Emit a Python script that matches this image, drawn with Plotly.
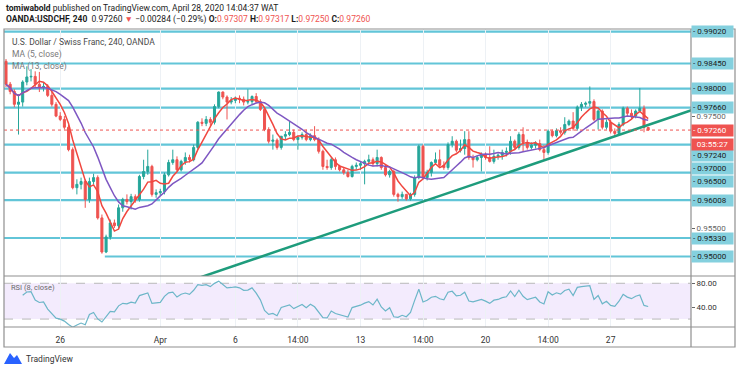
import numpy as np
import pandas as pd
import plotly.graph_objects as go

# ---------------- data (USDCHF 4H) ----------------
open_ = [0.9849,0.9808,0.9795,0.9772,0.9776,0.9812,0.9821,0.9822,0.9808,0.9803,
         0.9804,0.9788,0.9772,0.9751,0.9745,0.9731,0.9691,0.9623,0.9629,0.9634,
         0.9602,0.9634,0.9641,0.9569,0.9508,0.9535,0.9560,0.9555,0.9587,0.9602,
         0.9598,0.9607,0.9602,0.9643,0.9652,0.9661,0.9611,0.9614,0.9616,0.9646,
         0.9668,0.9673,0.9655,0.9670,0.9677,0.9673,0.9695,0.9740,0.9738,0.9745,
         0.9740,0.9768,0.9794,0.9785,0.9776,0.9779,0.9783,0.9781,0.9776,0.9777,
         0.9786,0.9777,0.9763,0.9727,0.9706,0.9708,0.9695,0.9715,0.9718,0.9722,
         0.9709,0.9713,0.9718,0.9709,0.9716,0.9709,0.9688,0.9661,0.9659,0.9673,
         0.9661,0.9655,0.9650,0.9643,0.9661,0.9663,0.9666,0.9670,0.9673,0.9666,
         0.9677,0.9659,0.9646,0.9652,0.9611,0.9607,0.9611,0.9603,0.9611,0.9641,
         0.9697,0.9641,0.9650,0.9668,0.9673,0.9663,0.9659,0.9700,0.9706,0.9690,
         0.9693,0.9709,0.9677,0.9673,0.9677,0.9682,0.9677,0.9670,0.9679,0.9681,
         0.9686,0.9688,0.9706,0.9695,0.9718,0.9704,0.9695,0.9699,0.9702,0.9691,
         0.9686,0.9724,0.9716,0.9725,0.9722,0.9736,0.9742,0.9729,0.9767,0.9772,
         0.9774,0.9777,0.9745,0.9760,0.9731,0.9740,0.9724,0.9720,0.9736,0.9765,
         0.9756,0.9751,0.9760,0.9765,0.97307]
high = [0.9853,0.9812,0.9799,0.9790,0.9815,0.9840,0.9835,0.9831,0.9830,0.9810,
        0.9808,0.9794,0.9776,0.9758,0.9751,0.9736,0.9695,0.9638,0.9641,0.9638,
        0.9641,0.9648,0.9645,0.9575,0.9539,0.9566,0.9566,0.9593,0.9605,0.9611,
        0.9612,0.9611,0.9646,0.9673,0.9691,0.9664,0.9620,0.9621,0.9650,0.9673,
        0.9691,0.9679,0.9673,0.9686,0.9682,0.9700,0.9742,0.9747,0.9751,0.9749,
        0.9772,0.9795,0.9795,0.9788,0.9785,0.9786,0.9788,0.9786,0.9799,0.9788,
        0.9792,0.9781,0.9767,0.9731,0.9718,0.9711,0.9715,0.9724,0.9742,0.9727,
        0.9716,0.9722,0.9727,0.9720,0.9733,0.9713,0.9691,0.9673,0.9677,0.9677,
        0.9664,0.9659,0.9655,0.9664,0.9668,0.9670,0.9673,0.9682,0.9677,0.9691,
        0.9679,0.9664,0.9655,0.9655,0.9614,0.9616,0.9612,0.9614,0.9645,0.9700,
        0.9700,0.9655,0.9670,0.9686,0.9691,0.9670,0.9704,0.9715,0.9709,0.9709,
        0.9724,0.9724,0.9682,0.9681,0.9686,0.9686,0.9697,0.9691,0.9684,0.9691,
        0.9695,0.9715,0.9709,0.9722,0.9731,0.9709,0.9704,0.9706,0.9709,0.9699,
        0.9727,0.9727,0.9729,0.9731,0.9749,0.9745,0.9758,0.9770,0.9776,0.9777,
        0.9804,0.9781,0.9763,0.9763,0.9745,0.9745,0.9729,0.9740,0.9768,0.9768,
        0.9763,0.9763,0.9801,0.9770,0.97317]
low = [0.9803,0.9790,0.9767,0.9718,0.9768,0.9806,0.9813,0.9803,0.9794,0.9795,
       0.9785,0.9768,0.9749,0.9742,0.9727,0.9688,0.9620,0.9611,0.9620,0.9587,
       0.9596,0.9629,0.9566,0.9505,0.9506,0.9530,0.9551,0.9548,0.9580,0.9593,
       0.9584,0.9596,0.9598,0.9638,0.9646,0.9607,0.9605,0.9609,0.9611,0.9643,
       0.9664,0.9652,0.9652,0.9664,0.9668,0.9670,0.9691,0.9733,0.9733,0.9734,
       0.9736,0.9765,0.9781,0.9745,0.9772,0.9774,0.9774,0.9770,0.9772,0.9772,
       0.9774,0.9760,0.9724,0.9702,0.9691,0.9691,0.9691,0.9709,0.9715,0.9706,
       0.9691,0.9709,0.9706,0.9706,0.9706,0.9684,0.9655,0.9655,0.9655,0.9655,
       0.9652,0.9646,0.9641,0.9641,0.9655,0.9655,0.9629,0.9664,0.9661,0.9661,
       0.9655,0.9643,0.9641,0.9607,0.9598,0.9603,0.9600,0.9600,0.9607,0.9638,
       0.9638,0.9636,0.9643,0.9664,0.9659,0.9655,0.9655,0.9695,0.9686,0.9686,
       0.9682,0.9673,0.9659,0.9670,0.9652,0.9673,0.9668,0.9666,0.9673,0.9673,
       0.9679,0.9682,0.9691,0.9691,0.9688,0.9691,0.9691,0.9693,0.9688,0.9673,
       0.9682,0.9713,0.9713,0.9718,0.9718,0.9733,0.9725,0.9725,0.9760,0.9767,
       0.9768,0.9742,0.9727,0.9727,0.9727,0.9720,0.9715,0.9718,0.9733,0.9751,
       0.9747,0.9747,0.9758,0.9722,0.97250]
close = [0.9808,0.9795,0.9772,0.9776,0.9812,0.9821,0.9822,0.9808,0.9803,0.9804,
         0.9788,0.9772,0.9751,0.9745,0.9731,0.9691,0.9623,0.9629,0.9634,0.9602,
         0.9634,0.9641,0.9569,0.9508,0.9535,0.9560,0.9555,0.9587,0.9602,0.9598,
         0.9607,0.9602,0.9643,0.9652,0.9661,0.9611,0.9614,0.9616,0.9646,0.9668,
         0.9673,0.9655,0.9670,0.9677,0.9673,0.9695,0.9740,0.9738,0.9745,0.9740,
         0.9768,0.9794,0.9785,0.9776,0.9779,0.9783,0.9781,0.9776,0.9777,0.9786,
         0.9777,0.9763,0.9727,0.9706,0.9708,0.9695,0.9715,0.9718,0.9722,0.9709,
         0.9713,0.9718,0.9709,0.9716,0.9709,0.9688,0.9661,0.9659,0.9673,0.9661,
         0.9655,0.9650,0.9643,0.9661,0.9663,0.9666,0.9670,0.9673,0.9666,0.9677,
         0.9659,0.9646,0.9652,0.9611,0.9607,0.9611,0.9603,0.9611,0.9641,0.9697,
         0.9641,0.9650,0.9668,0.9673,0.9663,0.9659,0.9700,0.9706,0.9690,0.9693,
         0.9709,0.9677,0.9673,0.9677,0.9682,0.9677,0.9670,0.9679,0.9681,0.9686,
         0.9688,0.9706,0.9695,0.9718,0.9704,0.9695,0.9699,0.9702,0.9691,0.9686,
         0.9724,0.9716,0.9725,0.9722,0.9736,0.9742,0.9729,0.9767,0.9772,0.9774,
         0.9777,0.9745,0.9760,0.9731,0.9740,0.9724,0.9720,0.9736,0.9765,0.9756,
         0.9751,0.9760,0.9765,0.97307,0.97260]

day_tick_idx = [13, 37, 55, 70, 85, 100, 115, 130, 145]
day_tick_text = ["26", "Apr", "6", "14:00", "13", "14:00", "20", "14:00", "27"]

level_prices = [0.99020, 0.98450, 0.98000, 0.97660, 0.97000, 0.96500, 0.96008, 0.95330, 0.95000]
level_start_idx = [-1, -1, -1, -1, -1, -1, -1, -1, 23.7]
label_prices = [0.99020, 0.98450, 0.98000, 0.97660, 0.97240, 0.97000, 0.96500, 0.96008, 0.95330, 0.95000]
label_shift_px = [0, 0, 0, 0, -24, -24, -9, 0, 0, 0]
last_price = 0.97260
countdown_text = "03:55:27"
trend_x = [40, 165]
trend_y = [0.9446, 0.9763]
price_ticks = [0.955, 0.975]
rsi_ticks = [40, 80]

# ---------------- derived indicators ----------------
idx = np.arange(len(close))
cs = pd.Series(close)
ma5 = cs.rolling(5, min_periods=1).mean()
ma13 = cs.rolling(13, min_periods=1).mean()
d = cs.diff()
up = d.clip(lower=0)
dn = -d.clip(upper=0)
au = up.ewm(alpha=1/8, adjust=True, min_periods=4).mean()
ad = dn.ewm(alpha=1/8, adjust=True, min_periods=4).mean()
rsi = 100 - 100 / (1 + au / ad)

# ---------------- layout helpers (pixel -> paper) ----------------
W, H = 740, 373
L_, R_, T_, B_ = 4, 691, 29, 327
def px(x):
    return (x - L_) / (R_ - L_)
def py(y):
    return (B_ - y) / (B_ - T_)

XR = [-0.48, 164.27]
FONT = "Roboto, Open Sans, sans-serif"
UP, DOWN = "#26a69a", "#ef5350"
CYAN = "#62c5d8"

fig = go.Figure()
fig.add_trace(go.Candlestick(
    x=idx, open=open_, high=high, low=low, close=close,
    increasing=dict(line=dict(color=UP, width=1), fillcolor=UP),
    decreasing=dict(line=dict(color=DOWN, width=1), fillcolor=DOWN),
    xaxis="x", yaxis="y", showlegend=False, hoverinfo="skip"))
fig.add_trace(go.Scatter(x=idx, y=ma5, mode="lines",
    line=dict(color="#f0473f", width=1.5), xaxis="x", yaxis="y", showlegend=False))
fig.add_trace(go.Scatter(x=idx, y=ma13, mode="lines",
    line=dict(color="#7e57c2", width=1.5), xaxis="x", yaxis="y", showlegend=False))
fig.add_trace(go.Scatter(x=trend_x, y=trend_y, mode="lines",
    line=dict(color="#1e9c7c", width=2.5), xaxis="x", yaxis="y", showlegend=False))
fig.add_trace(go.Scatter(x=idx, y=rsi, mode="lines",
    line=dict(color="#6cb6c8", width=1.2), xaxis="x2", yaxis="y2", showlegend=False))

shapes = []
for p, s in zip(level_prices, level_start_idx):
    shapes.append(dict(type="line", xref="x", yref="y", x0=max(s, XR[0]), x1=XR[1],
                       y0=p, y1=p, line=dict(color=CYAN, width=2.2), layer="below"))
shapes.append(dict(type="line", xref="x domain", yref="y", x0=0, x1=1, y0=last_price, y1=last_price,
                   line=dict(color=DOWN, width=1, dash="dot")))
# RSI band
shapes.append(dict(type="rect", xref="x2 domain", yref="y2", x0=0, x1=1, y0=20, y1=80,
                   fillcolor="rgba(160, 90, 235, 0.12)", line=dict(width=0), layer="below"))
for v in (20, 80):
    shapes.append(dict(type="line", xref="x2 domain", yref="y2", x0=0, x1=1, y0=v, y1=v,
                       line=dict(color="#b8b8b8", width=1, dash="dash"), layer="below"))
# frame
FR = "#8f8f8f"
shapes.append(dict(type="rect", xref="paper", yref="paper", x0=px(4), x1=px(735), y0=py(347), y1=py(29),
                   line=dict(color=FR, width=1.2)))
shapes.append(dict(type="line", xref="paper", yref="paper", x0=1, x1=1, y0=py(347), y1=py(29),
                   line=dict(color=FR, width=1.2)))
shapes.append(dict(type="line", xref="paper", yref="paper", x0=0, x1=px(735), y0=py(276), y1=py(276),
                   line=dict(color=FR, width=1.2)))
shapes.append(dict(type="line", xref="paper", yref="paper", x0=0, x1=px(735), y0=0, y1=0,
                   line=dict(color=FR, width=1.2)))
# TradingView logo icon
shapes.append(dict(type="path", xref="paper", yref="paper",
                   path=f"M {px(4)} {py(364)} L {px(10)} {py(353)} L {px(14)} {py(358)} L {px(17)} {py(355)} L {px(22)} {py(364)} Z",
                   fillcolor="#2962ff", line=dict(width=0)))

ann = []
for p, sh in zip(label_prices, label_shift_px):
    ann.append(dict(xref="paper", yref="y", x=1, y=p, yshift=sh, xanchor="left", yanchor="middle",
                    text=f"- {p:.5f}", showarrow=False, bgcolor="#84d0de", width=39, align="left",
                    borderpad=1, font=dict(size=8, color="#1b1b1b", family=FONT)))
ann.append(dict(xref="paper", yref="y", x=1, y=last_price, xanchor="left", yanchor="middle",
                text=f"- {last_price:.5f}", showarrow=False, bgcolor=DOWN, width=39, align="left",
                borderpad=1, font=dict(size=8, color="white", family=FONT)))
ann.append(dict(xref="paper", yref="y", x=1, y=last_price, yshift=-14.5, xanchor="left", yanchor="middle",
                text=countdown_text, showarrow=False, bgcolor=DOWN, width=39, align="center",
                borderpad=1, font=dict(size=8, color="white", family=FONT)))

red = "#ef5350"
line1 = "<b>tomiwabold</b> published on TradingView.com, April 28, 2020 14:04:37 WAT"
line2 = (f"<b>OANDA:USDCHF, 240</b>  0.97260 <span style='color:{red}'>▼</span> −0.00284 (−0.29%) "
         f"<b>O:</b><span style='color:{red}'>0.97307</span> <b>H:</b><span style='color:{red}'>0.97317</span> "
         f"<b>L:</b><span style='color:{red}'>0.97250</span> <b>C:</b><span style='color:{red}'>0.97260</span>")
hdr = [(line1, 4, 8, 8.5, "#1b1b1b"), (line2, 4, 20, 8.5, "#1b1b1b"),
       ("U.S. Dollar / Swiss Franc, 240, OANDA", 10, 42, 8.5, "#4a4a4a"),
       ("MA (5, close)", 10, 54, 8.5, "#7a7a7a"),
       ("MA (13, close)", 10, 66, 8.5, "#7a7a7a"),
       ("RSI (8, close)", 9, 287, 7.5, "#6a6a6a"),
       ("TradingView", 24, 359, 8.5, "#333333")]
for t, x, y, s, c in hdr:
    ann.append(dict(xref="paper", yref="paper", x=px(x), y=py(y), xanchor="left", yanchor="middle",
                    text=t, showarrow=False, font=dict(size=s, color=c, family=FONT)))

dom_split = py(276)
fig.update_layout(
    width=W, height=H, margin=dict(l=L_, r=W - R_, t=T_, b=H - B_),
    paper_bgcolor="white", plot_bgcolor="white",
    font=dict(family=FONT, size=8.5, color="#333"),
    showlegend=False, shapes=shapes, annotations=ann, hovermode=False,
    xaxis=dict(domain=[0, 1], range=XR, anchor="y", tickvals=day_tick_idx, showticklabels=False,
               showgrid=True, gridcolor="#edf1f5", gridwidth=1, zeroline=False, ticks="",
               rangeslider=dict(visible=False), fixedrange=True),
    yaxis=dict(domain=[dom_split, 1], range=[0.94651, 0.99067], side="right", anchor="x",
               tickvals=price_ticks, ticktext=[f"{v:.5f}" for v in price_ticks],
               tickfont=dict(size=8, color="#666"), ticks="outside", ticklen=3, tickcolor="#666",
               showgrid=False, zeroline=False),
    xaxis2=dict(domain=[0, 1], range=XR, anchor="y2", matches="x", tickvals=day_tick_idx,
                ticktext=day_tick_text, showgrid=True, gridcolor="#edf1f5", zeroline=False,
                ticks="", tickfont=dict(size=8.5, color="#333"), ticklabelstandoff=6),
    yaxis2=dict(domain=[0, dom_split], range=[6.7, 92.2], side="right", anchor="x2",
                tickvals=rsi_ticks, ticktext=[f"{v:.2f}" for v in rsi_ticks],
                tickfont=dict(size=8, color="#333"), ticks="outside", ticklen=3, tickcolor="#666",
                showgrid=False, zeroline=False),
)
fig.write_html("out.html", config={"displayModeBar": False, "staticPlot": True},
               post_script="document.body.style.margin='0';document.body.style.overflow='hidden';")
